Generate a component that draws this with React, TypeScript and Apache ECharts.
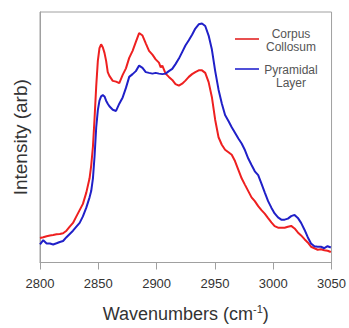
import React, { useEffect, useRef } from "react";
import * as echarts from "echarts";

const wavenumbers = [
  2800.0, 2802.8, 2805.7, 2808.5, 2811.3, 2814.2, 2817.0, 2819.8, 2822.7, 2825.5, 2828.3, 2831.2, 2834.0, 2836.8, 2839.7, 2842.5,
  2843.9, 2845.4, 2846.8, 2848.2, 2849.6, 2851.0, 2852.4, 2853.9, 2855.3, 2856.7, 2858.1, 2859.5,
  2862.4, 2865.2, 2868.0, 2870.9, 2873.7, 2876.5, 2879.4, 2882.2, 2885.0, 2887.9, 2890.7, 2893.5, 2896.4, 2899.2, 2902.0,
  2903.5,
  2904.9, 2907.7, 2910.5, 2913.4, 2916.2, 2919.1, 2921.9, 2924.7, 2927.6, 2930.4, 2933.2, 2936.1, 2938.9, 2941.7, 2944.6, 2947.4,
  2950.2, 2953.1, 2955.9, 2958.7, 2961.6, 2964.4, 2967.2, 2970.1, 2972.9, 2975.8, 2978.6, 2981.4, 2984.2, 2987.1, 2989.9, 2992.7,
  2995.6, 2998.4, 3001.2, 3004.1, 3006.9, 3009.8, 3012.6, 3015.4, 3018.3, 3021.1, 3023.9, 3026.8, 3029.6, 3032.4, 3035.3, 3038.1,
  3040.9, 3043.8, 3046.6, 3049.4,
];

const corpusCollosum = [
  9.8, 10.1, 10.5, 10.8, 11.0, 11.3, 11.4, 11.7, 12.7, 14.3, 15.8, 18.4, 20.9, 23.4, 27.9, 33.6,
  38.7, 46.3, 57.7, 70.3, 80.5, 85.6, 87.1, 85.8, 83.7, 80.5, 76.0, 74.5,
  72.5, 72.2, 71.6, 74.9, 77.5, 81.7, 84.5, 88.1, 91.6, 90.6, 87.5, 84.5, 83.0, 81.1, 79.8,
  77.9,
  78.6, 75.4, 74.1, 72.9, 71.2, 70.6, 71.4, 72.6, 74.1, 75.2, 76.0, 76.7, 76.7, 75.7, 72.0, 66.0,
  57.0, 50.0, 47.0, 45.0, 44.0, 43.0, 40.5, 37.0, 33.6, 31.0, 28.5, 26.0, 24.5, 22.5, 20.9, 19.5,
  17.7, 16.0, 14.5, 13.9, 13.9, 13.9, 14.3, 14.6, 13.6, 12.0, 10.8, 9.3, 8.0, 6.3, 5.7, 5.1,
  5.3, 4.9, 4.7, 4.2,
];

const pyramidalLayer = [
  7.2, 8.9, 7.6, 7.6, 7.2, 7.7, 8.2, 8.6, 10.1, 11.4, 12.7, 14.3, 15.8, 18.4, 21.9, 26.0,
  28.5, 33.6, 42.5, 53.9, 60.8, 64.6, 66.3, 66.8, 66.3, 64.6, 63.4, 62.4,
  61.0, 60.5, 63.4, 65.9, 69.7, 74.1, 75.2, 76.4, 78.6, 77.7, 76.0, 75.7, 75.4, 75.7, 75.4,
  75.3,
  75.2, 75.4, 76.4, 77.3, 79.2, 81.4, 84.0, 86.6, 88.7, 90.9, 93.4, 95.1, 95.4, 94.4, 90.6, 85.0,
  76.5, 69.0, 63.5, 58.9, 56.5, 54.0, 51.8, 49.5, 47.5, 44.8, 41.5, 38.9, 36.4, 34.9, 31.5, 28.0,
  24.5, 21.9, 19.6, 18.0, 17.1, 17.1, 17.5, 18.5, 19.0, 17.8, 15.8, 13.1, 10.1, 7.6, 6.5, 6.3,
  6.3, 5.7, 6.5, 6.0,
];

const seriesNames = ["Corpus Collosum", "Pyramidal Layer"];
const legendLines = [["Corpus", "Collosum"], ["Pyramidal", "Layer"]];
const seriesColors = ["#ee2020", "#2020c8"];

const FONT = "'Liberation Sans', Arial, Helvetica, sans-serif";

export default function App() {
  const ref = useRef<HTMLDivElement>(null);
  useEffect(() => {
    if (!ref.current) return;
    const chart = echarts.init(ref.current, null, { renderer: "svg" });
    const pairs = (ys: number[]) => wavenumbers.map((x, i) => [x, ys[i]]);
    const legendX = 235;
    const legendTextX = 291;
    chart.setOption({
      animation: false,
      backgroundColor: "#ffffff",
      textStyle: { fontFamily: FONT },
      grid: {
        left: 40,
        right: 15,
        top: 12,
        bottom: 53,
        show: true,
        borderColor: "#a0a0a0",
        borderWidth: 1,
        backgroundColor: "transparent",
      },
      xAxis: {
        type: "value",
        min: 2800,
        max: 3050,
        interval: 50,
        name: "Wavenumbers (cm{sup|-1})",
        nameLocation: "middle",
        nameGap: 41,
        nameTextStyle: {
          fontSize: 18,
          color: "#333",
          fontFamily: FONT,
          rich: {
            sup: { fontSize: 11, color: "#333", verticalAlign: "top", padding: [0, 0, 10, 0], fontFamily: FONT },
          },
        },
        axisLine: { show: true, lineStyle: { color: "#a0a0a0", width: 1 } },
        axisTick: { show: true, inside: false, length: 7, lineStyle: { color: "#a0a0a0" } },
        axisLabel: {
          show: true,
          margin: 14,
          fontSize: 13,
          color: "#333",
          fontFamily: FONT,
          formatter: (v: number) => String(v),
        },
        splitLine: { show: false },
      },
      yAxis: {
        type: "value",
        min: 0,
        max: 100,
        name: "Intensity (arb)",
        nameLocation: "middle",
        nameGap: 10,
        nameTextStyle: { fontSize: 19, color: "#333", fontFamily: FONT },
        axisLine: { show: true, lineStyle: { color: "#a0a0a0" } },
        axisTick: { show: false },
        axisLabel: { show: false },
        splitLine: { show: false },
      },
      series: [
        {
          name: seriesNames[0],
          type: "line",
          data: pairs(corpusCollosum),
          showSymbol: false,
          lineStyle: { color: seriesColors[0], width: 2 },
          itemStyle: { color: seriesColors[0] },
          z: 2,
        },
        {
          name: seriesNames[1],
          type: "line",
          data: pairs(pyramidalLayer),
          showSymbol: false,
          lineStyle: { color: seriesColors[1], width: 2 },
          itemStyle: { color: seriesColors[1] },
          z: 3,
        },
      ],
      graphic: [
        { type: "line", shape: { x1: legendX, y1: 39, x2: legendX + 24, y2: 39 }, style: { stroke: "#e85050", lineWidth: 2 } },
        { type: "line", shape: { x1: legendX, y1: 69, x2: legendX + 24, y2: 69 }, style: { stroke: "#5050d8", lineWidth: 2 } },
        { type: "text", x: legendTextX, y: 34, style: { text: legendLines[0][0], fill: "#555", font: `12px ${FONT}`, textAlign: "center", textVerticalAlign: "middle" } },
        { type: "text", x: legendTextX, y: 47, style: { text: legendLines[0][1], fill: "#555", font: `12px ${FONT}`, textAlign: "center", textVerticalAlign: "middle" } },
        { type: "text", x: legendTextX, y: 70, style: { text: legendLines[1][0], fill: "#555", font: `12px ${FONT}`, textAlign: "center", textVerticalAlign: "middle" } },
        { type: "text", x: legendTextX, y: 83, style: { text: legendLines[1][1], fill: "#555", font: `12px ${FONT}`, textAlign: "center", textVerticalAlign: "middle" } },
      ],
    });
    return () => chart.dispose();
  }, []);
  return (
    <div
      ref={ref}
      style={{ position: "fixed", left: 0, top: 0, width: 349, height: 328, background: "#fff" }}
    />
  );
}
